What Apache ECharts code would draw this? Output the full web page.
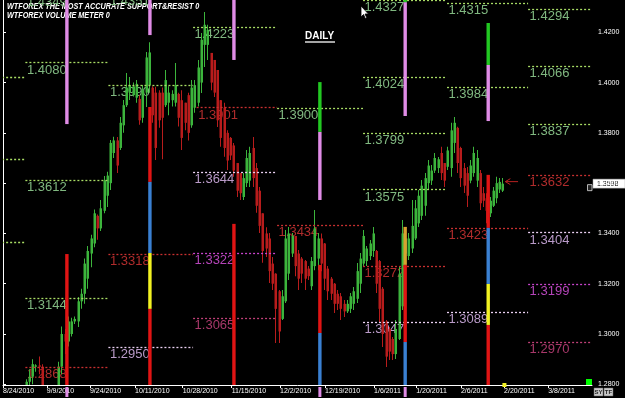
<!DOCTYPE html>
<html><head><meta charset="utf-8">
<script src="https://cdn.jsdelivr.net/npm/echarts@6/dist/echarts.min.js"></script>
<style>html,body{margin:0;padding:0;background:#000;}#c{width:625px;height:398px;}</style>
</head><body><div id="c"></div>
<script>
// ---- axis data ----
const tickBars = [0, 13.5, 26.8, 40.7, 55.4, 70.5, 85.4, 99.3, 114.4, 127.4, 141.2, 154.5, 168.1];
const tickLabels = ['8/24/2010','9/9/2010','9/24/2010','10/11/2010','10/28/2010','11/15/2010','12/2/2010','12/19/2010','1/6/2011','1/20/2011','2/6/2011','2/20/2011','3/8/2011'];
const priceTicks = [1.28, 1.30, 1.32, 1.34, 1.36, 1.38, 1.40, 1.42];
const Y_MIN = 1.27971, Y_MAX = 1.43285, X_MAX = 181.6;
const lastPrice = 1.3598;

// ---- candles [open, high, low, close] ----
const candles = [
 [1.2710,1.2730,1.2590,1.2660],[1.2660,1.2710,1.2630,1.2690],[1.2690,1.2750,1.2640,1.2660],[1.2660,1.2770,1.2650,1.2760],
 [1.2755,1.2770,1.2740,1.2750],[1.2750,1.2770,1.2680,1.2700],[1.2700,1.2740,1.2650,1.2690],[1.2690,1.2820,1.2680,1.2810],
 [1.2810,1.2860,1.2780,1.2830],[1.2830,1.2900,1.2800,1.2880],[1.2870,1.2880,1.2850,1.2875],[1.2875,1.2910,1.2840,1.2870],
 [1.2870,1.2880,1.2720,1.2740],[1.2740,1.2790,1.2660,1.2690],[1.2690,1.2780,1.2660,1.2730],[1.2730,1.2750,1.2670,1.2710],
 [1.2760,1.2790,1.2750,1.2780],[1.2780,1.2890,1.2770,1.2870],[1.2870,1.3030,1.2840,1.3000],[1.3000,1.3020,1.2920,1.2970],
 [1.2970,1.3070,1.2950,1.3050],[1.3000,1.3065,1.2990,1.3050],[1.3050,1.3070,1.3040,1.3060],[1.3050,1.3147,1.3028,1.3130],
 [1.3130,1.3180,1.3100,1.3160],[1.3160,1.3300,1.3120,1.3280],[1.3220,1.3350,1.3180,1.3330],[1.3320,1.3395,1.3265,1.3380],
 [1.3360,1.3495,1.3345,1.3480],[1.3470,1.3475,1.3375,1.3420],[1.3420,1.3533,1.3410,1.3500],[1.3490,1.3628,1.3480,1.3610],
 [1.3550,1.3645,1.3505,1.3630],[1.3600,1.3772,1.3573,1.3760],[1.3720,1.3785,1.3700,1.3770],[1.3770,1.3784,1.3640,1.3670],
 [1.3740,1.3863,1.3732,1.3840],[1.3830,1.3931,1.3800,1.3910],[1.3910,1.4038,1.3903,1.3980],[1.3960,1.4022,1.3931,1.3990],
 [1.3950,1.4000,1.3945,1.3985],[1.3940,1.4010,1.3920,1.3995],[1.3935,1.3950,1.3832,1.3850],[1.3860,1.3990,1.3840,1.3970],
 [1.3960,1.4122,1.3903,1.4100],[1.3990,1.4160,1.3960,1.4120],[1.3980,1.3985,1.3840,1.3870],[1.3960,1.3983,1.3692,1.3740],
 [1.3960,1.3970,1.3820,1.3850],[1.3960,1.3980,1.3695,1.3860],[1.3910,1.4050,1.3903,1.4010],[1.3920,1.3985,1.3870,1.3960],
 [1.3930,1.3970,1.3905,1.3955],[1.3920,1.4078,1.3905,1.3990],[1.3955,1.3960,1.3825,1.3860],[1.3930,1.3970,1.3732,1.3780],
 [1.3920,1.3920,1.3810,1.3840],[1.3950,1.3960,1.3770,1.3800],[1.3830,1.4010,1.3820,1.3980],[1.3900,1.4010,1.3880,1.3990],
 [1.3920,1.4090,1.3905,1.4060],[1.4000,1.4197,1.3959,1.4170],[1.4150,1.4281,1.4062,1.4230],[1.4150,1.4230,1.4090,1.4210],
 [1.4118,1.4118,1.3970,1.4000],[1.4090,1.4090,1.3943,1.3960],[1.4050,1.4050,1.3823,1.3850],[1.3930,1.3931,1.3745,1.3780],
 [1.3900,1.3920,1.3705,1.3740],[1.3800,1.3810,1.3652,1.3690],[1.3780,1.3784,1.3692,1.3710],[1.3750,1.3760,1.3625,1.3650],
 [1.3680,1.3680,1.3545,1.3570],[1.3640,1.3640,1.3533,1.3560],[1.3545,1.3640,1.3533,1.3620],[1.3600,1.3732,1.3585,1.3700],
 [1.3610,1.3745,1.3585,1.3720],[1.3740,1.3784,1.3585,1.3620],[1.3660,1.3680,1.3482,1.3510],[1.3570,1.3585,1.3402,1.3430],
 [1.3480,1.3480,1.3283,1.3330],[1.3400,1.3425,1.3306,1.3340],[1.3380,1.3402,1.3203,1.3250],[1.3280,1.3306,1.3175,1.3200],
 [1.3240,1.3242,1.2964,1.3100],[1.3170,1.3175,1.2964,1.3010],[1.3060,1.3175,1.3056,1.3150],[1.3130,1.3414,1.3123,1.3380],
 [1.3240,1.3426,1.3215,1.3400],[1.3320,1.3402,1.3306,1.3390],[1.3390,1.3390,1.3230,1.3270],[1.3320,1.3334,1.3175,1.3220],
 [1.3300,1.3306,1.3203,1.3240],[1.3290,1.3294,1.3175,1.3220],[1.3260,1.3270,1.3215,1.3230],[1.3190,1.3306,1.3175,1.3290],
 [1.3270,1.3493,1.3254,1.3420],[1.3300,1.3402,1.3254,1.3380],[1.3380,1.3400,1.3250,1.3280],[1.3360,1.3362,1.3175,1.3220],
 [1.3260,1.3270,1.3135,1.3170],[1.3220,1.3227,1.3135,1.3160],[1.3200,1.3203,1.3083,1.3120],[1.3160,1.3175,1.3095,1.3120],
 [1.3150,1.3163,1.3056,1.3100],[1.3120,1.3135,1.3068,1.3090],[1.3090,1.3135,1.3083,1.3120],[1.3100,1.3163,1.3083,1.3150],
 [1.3120,1.3187,1.3095,1.3170],[1.3140,1.3282,1.3123,1.3250],[1.3200,1.3322,1.3163,1.3300],[1.3280,1.3414,1.3270,1.3390],
 [1.3290,1.3350,1.3270,1.3340],[1.3310,1.3374,1.3294,1.3360],[1.3330,1.3426,1.3306,1.3400],[1.3330,1.3334,1.3163,1.3200],
 [1.3290,1.3294,1.3048,1.3100],[1.3180,1.3187,1.2948,1.3000],[1.3050,1.3056,1.2869,1.2910],[1.3020,1.3028,1.2897,1.2930],
 [1.2980,1.2988,1.2897,1.2920],[1.2920,1.3056,1.2901,1.3020],[1.2980,1.3270,1.2976,1.3240],[1.3110,1.3453,1.3095,1.3400],
 [1.3320,1.3402,1.3294,1.3380],[1.3310,1.3402,1.3294,1.3380],[1.3340,1.3533,1.3322,1.3430],[1.3380,1.3533,1.3374,1.3500],
 [1.3440,1.3573,1.3426,1.3550],[1.3470,1.3613,1.3453,1.3590],[1.3510,1.3640,1.3470,1.3620],[1.3600,1.3692,1.3573,1.3670],
 [1.3610,1.3672,1.3593,1.3650],[1.3650,1.3720,1.3640,1.3700],[1.3660,1.3704,1.3640,1.3695],[1.3720,1.3745,1.3613,1.3640],
 [1.3680,1.3680,1.3585,1.3610],[1.3665,1.3745,1.3652,1.3730],[1.3660,1.3840,1.3625,1.3810],[1.3760,1.3863,1.3720,1.3840],
 [1.3820,1.3824,1.3640,1.3680],[1.3740,1.3745,1.3585,1.3620],[1.3660,1.3680,1.3561,1.3590],[1.3640,1.3664,1.3505,1.3550],
 [1.3610,1.3692,1.3600,1.3670],[1.3640,1.3745,1.3625,1.3720],[1.3610,1.3732,1.3585,1.3700],[1.3640,1.3652,1.3493,1.3520],
 [1.3560,1.3585,1.3505,1.3530],[1.3540,1.3560,1.3440,1.3490],[1.3480,1.3545,1.3465,1.3530],[1.3510,1.3585,1.3505,1.3570],
 [1.3540,1.3625,1.3520,1.3600],[1.3575,1.3620,1.3561,1.3605],[1.3570,1.3620,1.3565,1.3598]
];

// ---- support / resistance levels [fromBar, toBar, price] ----
const greenLevels = [
 [-20,6.9,1.4021],[-20,6.9,1.3697],[-20,6.9,1.3367],
 [6.9,32.5,1.4349],[6.9,32.5,1.4080],[6.9,32.5,1.3612],[6.9,32.5,1.3144],
 [32.5,58.6,1.4351],[32.5,58.6,1.3990],
 [58.6,84.5,1.4223],
 [84.5,111,1.3900],
 [111,136.9,1.4327],[111,136.9,1.4024],[111,136.9,1.3799],[111,136.9,1.3575],
 [136.9,161.9,1.4315],[136.9,161.9,1.3984],
 [161.9,190,1.4294],[161.9,190,1.4066],[161.9,190,1.3837]
];
const redLevels = [[6.9,32.5,1.2868],[32.5,58.6,1.3318],[59.7,84.5,1.3901],[84.5,111,1.3434],[111,136.9,1.3272],[136.9,161.9,1.3423],[161.9,190,1.3632]];
const lavenderLevels = [[32.5,58.6,1.2950],[58.6,84.5,1.3644],[111,136.9,1.3047],[136.9,161.9,1.3089],[161.9,190,1.3404]];
const magentaLevels = [[58.6,84.5,1.3322],[161.9,190,1.3199]];
const roseLevels = [[58.6,84.5,1.3065],[161.9,190,1.2970]];

// ---- volume meter columns [bar, topPrice, bottomPrice] ----
const pinkBars = [[19.7,1.45,1.3835],[45.3,1.45,1.4189],[71.2,1.45,1.4090],[97.7,1.3804,1.3533],[124,1.4320,1.3867],[149.6,1.4070,1.3847]];
const greenBars = [[97.7,1.4002,1.3804],[124,1.45,1.4320],[149.6,1.4237,1.4070]];
const redBars = [[19.7,1.3318,1.27],[45.3,1.3903,1.3605],[45.3,1.3100,1.27],[71.2,1.3438,1.27],[97.7,1.3275,1.3004],[124,1.3275,1.2968],[149.6,1.3633,1.3422],[149.6,1.3036,1.27]];
const blueBars = [[45.3,1.3605,1.3322],[97.7,1.3004,1.27],[124,1.2968,1.27],[149.6,1.3422,1.3199]];
const yellowBars = [[45.3,1.3322,1.3100],[149.6,1.3199,1.3036]];
const orangeBars = [[124,1.3426,1.3275]];
const pinkMarkers = [19.7, 97.7, 124];
const yellowMarkers = [154.6];
const arrowFrom = [158.8, 1.3606], arrowTo = [154.9, 1.3606];

// ---- build ----
const levelStyles = [
 {line:'#a8dc64', text:'#80b880'},
 {line:'#c83030', text:'#b02c2c'},
 {line:'#ead0f2', text:'#b99ac8'},
 {line:'#c844cc', text:'#b444b8'},
 {line:'#c04078', text:'#a8386a'}
];
const levelData = [];
[greenLevels, redLevels, lavenderLevels, magentaLevels, roseLevels].forEach((arr,k)=>arr.forEach(d=>levelData.push([d[0],d[1],d[2],k])));
const barColors = ['#e08ce6','#22c822','#e01414','#3a80d2','#f2f222','#d8a030'];
const barData = [];
[pinkBars, greenBars, redBars, blueBars, yellowBars, orangeBars].forEach((arr,k)=>arr.forEach(d=>barData.push([d[0],d[1],d[2],k])));
const FONT = '"Liberation Sans", Arial, sans-serif';

const chart = echarts.init(document.getElementById('c'), null, {renderer:'canvas'});
const option = {
 backgroundColor:'#000',
 animation:false,
 grid:{left:3, right:33, top:0, bottom:13, containLabel:false, outerBoundsMode:'none'},
 xAxis:{type:'value', min:0, max:X_MAX, position:'bottom',
  axisLine:{show:true, onZero:false, lineStyle:{color:'#fff', width:1}},
  axisTick:{show:true, customValues:tickBars, length:3, lineStyle:{color:'#fff'}},
  axisLabel:{customValues:tickBars, formatter:(v)=>{const k=tickBars.indexOf(v); return k>=0?tickLabels[k]:'';}, color:'#fff', fontSize:7, fontFamily:FONT, align:'left', margin:3},
  splitLine:{show:false}},
 yAxis:[
  {type:'value', min:Y_MIN, max:Y_MAX, position:'right',
   axisLine:{show:true, lineStyle:{color:'#fff'}},
   axisTick:{show:true, customValues:priceTicks, length:3, lineStyle:{color:'#fff'}},
   axisLabel:{customValues:priceTicks, formatter:(v)=>v.toFixed(4), color:'#fff', fontSize:7, fontFamily:FONT, margin:6},
   splitLine:{show:false}},
  {type:'value', min:Y_MIN, max:Y_MAX, position:'left',
   axisLine:{show:true, lineStyle:{color:'#fff'}}, axisTick:{show:false}, axisLabel:{show:false}, splitLine:{show:false}}
 ],
 series:[
  { // level labels
   type:'custom', clip:false, z:2, data:levelData,
   renderItem:(params, api)=>{
     const a = api.coord([api.value(0), api.value(2)]);
     const st = levelStyles[api.value(3)];
     return {type:'text', x:a[0]+1.5, y:a[1]+7.5, style:{text:api.value(2).toFixed(4), fill:st.text, font:'13px '+FONT, textAlign:'left', textVerticalAlign:'middle', align:'left', verticalAlign:'middle'}};
   }
  },
  { // candles
   type:'custom', clip:true, z:3,
   data:candles.map((q,i)=>[i,q[0],q[1],q[2],q[3]]),
   encode:{x:0, y:[1,2,3,4]},
   renderItem:(params, api)=>{
     const i=api.value(0), o=api.value(1), h=api.value(2), l=api.value(3), c=api.value(4);
     const po=api.coord([i,o]), pc=api.coord([i,c]), ph=api.coord([i,h]), pl=api.coord([i,l]);
     const x=Math.round(po[0]);
     const col = c>=o ? '#3cb43c' : '#b81c1c';
     const top=Math.min(po[1],pc[1]), bot=Math.max(po[1],pc[1]);
     return {type:'group', children:[
       {type:'rect', shape:{x:x, y:ph[1], width:1, height:Math.max(1,pl[1]-ph[1])}, style:{fill:col}},
       {type:'rect', shape:{x:x-0.5, y:top, width:2.5, height:Math.max(1,bot-top)}, style:{fill:col}}
     ]};
   }
  },
  { // level lines
   type:'custom', clip:true, z:4, data:levelData,
   renderItem:(params, api)=>{
     const a = api.coord([api.value(0), api.value(2)]);
     const b = api.coord([api.value(1), api.value(2)]);
     const y = Math.round(a[1])+0.5;
     return {type:'line', shape:{x1:a[0], y1:y, x2:b[0], y2:y}, style:{stroke:levelStyles[api.value(3)].line, lineWidth:1.3, lineDash:[2,2]}};
   }
  },
  { // volume meter columns
   type:'custom', clip:true, z:5, data:barData,
   renderItem:(params, api)=>{
     const a = api.coord([api.value(0), api.value(1)]);
     const b = api.coord([api.value(0), api.value(2)]);
     return {type:'rect', shape:{x:a[0]-1.7, y:a[1], width:3.4, height:b[1]-a[1]}, style:{fill:barColors[api.value(3)]}};
   }
  },
  { // markers under the axis
   type:'custom', clip:false, z:6,
   data:pinkMarkers.map(v=>[v,0]).concat(yellowMarkers.map(v=>[v,1])),
   renderItem:(params, api)=>{
     const p = api.coord([api.value(0), Y_MIN]);
     if (api.value(1)===0) return {type:'rect', shape:{x:p[0]-1.5, y:p[1]+2, width:3, height:10}, style:{fill:'#e08ce6'}};
     return {type:'rect', shape:{x:p[0]-2, y:p[1]-2, width:4, height:4}, style:{fill:'#f2f222'}};
   }
  }
 ]
};
chart.setOption(option);

const pp = chart.convertToPixel({gridIndex:0}, [0, lastPrice]);
const af = chart.convertToPixel({gridIndex:0}, arrowFrom);
const at = chart.convertToPixel({gridIndex:0}, arrowTo);
chart.setOption({graphic:[
 {type:'text', x:7, y:2.5, scaleX:0.806, style:{text:'WTFOREX THE MOST ACCURATE SUPPORT&RESIST 0', font:'italic bold 9px '+FONT, fill:'#fff', textVerticalAlign:'top', verticalAlign:'top'}},
 {type:'text', x:7, y:11.5, scaleX:0.806, style:{text:'WTFOREX VOLUME METER 0', font:'italic bold 9px '+FONT, fill:'#fff', textVerticalAlign:'top', verticalAlign:'top'}},
 {type:'text', x:305, y:31, style:{text:'DAILY', font:'bold 10px '+FONT, fill:'#fff', textVerticalAlign:'top', verticalAlign:'top'}},
 {type:'line', shape:{x1:305, y1:42, x2:335, y2:42}, style:{stroke:'#fff', lineWidth:1.3}},
 {type:'polygon', shape:{points:[[361,6],[361,17],[363.5,14.5],[365.3,18.5],[366.8,17.8],[365,14],[368.5,14]]}, style:{fill:'#fff', stroke:'#000', lineWidth:0.8}},
 // current price box
 {type:'rect', shape:{x:593, y:pp[1]-4.5, width:32, height:9}, style:{fill:'#fff', stroke:'#aaa', lineWidth:0.5}},
 {type:'text', x:597, y:pp[1], style:{text:lastPrice.toFixed(4), font:'7px '+FONT, fill:'#000', textVerticalAlign:'middle', verticalAlign:'middle'}},
 {type:'rect', shape:{x:587.5, y:pp[1]+1, width:4.5, height:6}, style:{fill:'#222', stroke:'#ddd', lineWidth:0.8}},
 // arrow
 {type:'line', shape:{x1:af[0], y1:af[1], x2:at[0], y2:at[1]}, style:{stroke:'#b82020', lineWidth:1}},
 {type:'polyline', shape:{points:[[at[0]+5,at[1]-3],[at[0],at[1]],[at[0]+5,at[1]+3]]}, style:{stroke:'#b82020', lineWidth:1, fill:null}},
 // corner widgets
 {type:'rect', shape:{x:586, y:379, width:6, height:6}, style:{fill:'#00ff00'}},
 {type:'rect', shape:{x:594, y:388, width:9, height:8}, style:{fill:'#c8c8c8', stroke:'#666', lineWidth:0.5}},
 {type:'text', x:598.5, y:392, style:{text:'SY', font:'bold 6px '+FONT, fill:'#222', textAlign:'center', align:'center', textVerticalAlign:'middle', verticalAlign:'middle'}},
 {type:'rect', shape:{x:604, y:388, width:9, height:8}, style:{fill:'#c8c8c8', stroke:'#666', lineWidth:0.5}},
 {type:'text', x:608.5, y:392, style:{text:'TF', font:'bold 6px '+FONT, fill:'#222', textAlign:'center', align:'center', textVerticalAlign:'middle', verticalAlign:'middle'}}
]});
</script>
</body></html>
